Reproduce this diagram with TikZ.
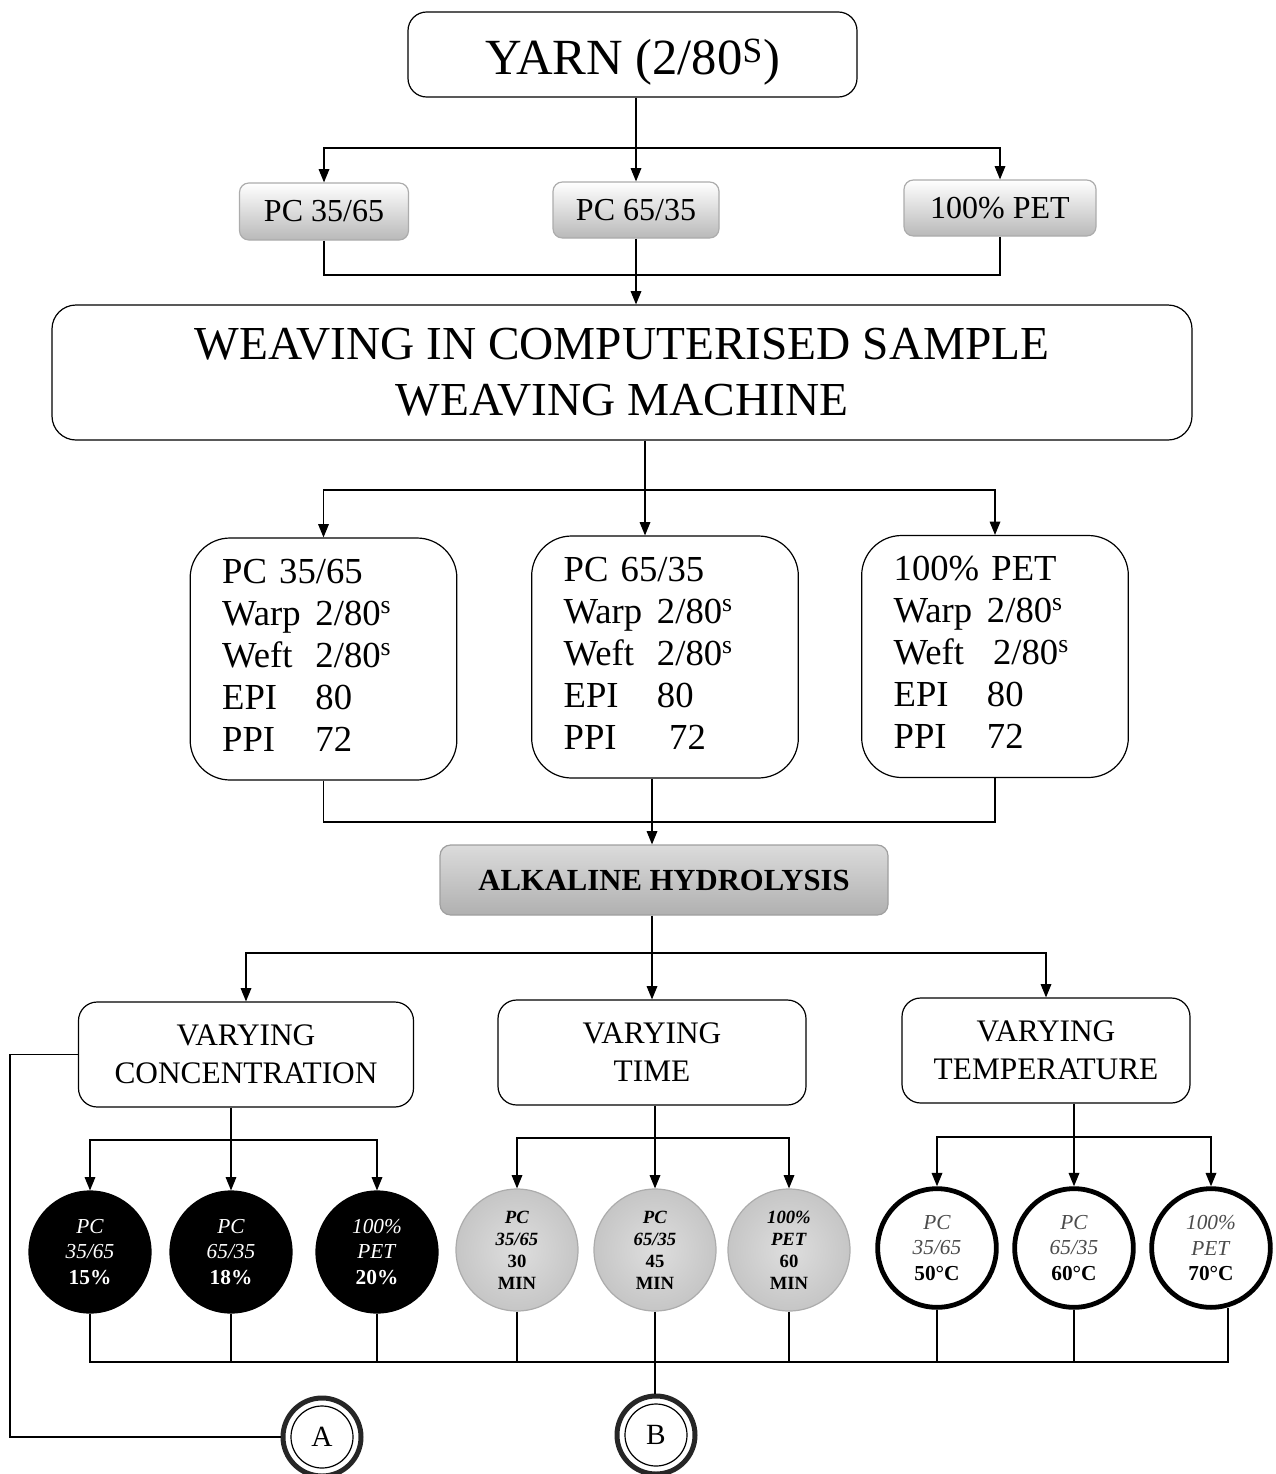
\documentclass[tikz,border=0pt]{standalone}
\usepackage{fontspec}
\setmainfont{Liberation Serif}
\usetikzlibrary{arrows.meta,shadings}
\newcommand{\myfs}[2]{\fontsize{#1}{#2}\selectfont}
\begin{document}
\begin{tikzpicture}[x=0.75pt,y=-0.75pt,
  line width=0.9pt,
  arr/.style={-{Triangle[length=10pt,width=8pt]}},
  rbox/.style={draw, rounded corners=#1, align=center, inner sep=0pt},
  grad/.style={draw=gray!65, rounded corners=7pt, top color=white, bottom color=gray!55, inner sep=0pt, font=\myfs{24pt}{28pt}},
  spec/.style={draw, rounded corners=30pt, minimum width=200pt, minimum height=181.5pt, inner xsep=24pt, inner ysep=0pt, text width=152pt, align=left, font=\myfs{27.5pt}{31.5pt}},
  vary/.style={draw, rounded corners=14pt, minimum height=78.75pt, inner sep=0pt, align=center, font=\myfs{23.5pt}{28.5pt}},
  blk/.style={circle, fill=black, draw=black, minimum size=91.5pt, inner sep=0pt, text=white, align=center, font=\myfs{16pt}{19pt}},
  gry/.style={circle, draw=gray!65, inner color=gray!26, outer color=gray!45, minimum size=91.5pt, inner sep=0pt, align=center, font=\myfs{14pt}{16.5pt}\bfseries},
  rim/.style={circle, draw, line width=3.6pt, fill=white, minimum size=89pt, inner sep=0pt, align=center, font=\myfs{16pt}{19pt}},
  ringo/.style={circle, draw=black!85, line width=3.75pt, minimum size=58.5pt, inner sep=0pt, font=\myfs{22pt}{24pt}},
  ringi/.style={circle, draw, line width=0.9pt, minimum size=46.5pt, inner sep=0pt}
]
\useasboundingbox (0,0) rectangle (1275,1474);

% top
\node[rbox=14pt, minimum width=336.75pt, minimum height=63.75pt, font=\myfs{38pt}{44pt}] (yarn) at (632.5,54.5) {\raisebox{-15pt}[0pt][0pt]{YARN (2/80\textsuperscript{S})}};
\node[grad, minimum width=126.75pt, minimum height=42.75pt] (pc1) at (324,211.5) {PC 35/65};
\node[grad, minimum width=124.5pt, minimum height=42pt] (pc2) at (636,210) {PC 65/35};
\node[grad, minimum width=144pt, minimum height=42pt] (pc3) at (1000,208) {100\% PET};

\node[rbox=18pt, minimum width=855pt, minimum height=101.25pt, font=\myfs{35.5pt}{42pt}] (weave) at (622,372.5) {WEAVING IN COMPUTERISED SAMPLE\\WEAVING MACHINE};

\node[spec] (s1) at (323.5,659) {\begin{tabular}{@{}p{70pt}@{}l@{}}\multicolumn{2}{@{}l@{}}{PC 35/65}\\ Warp & 2/80\textsuperscript{s}\\ Weft & 2/80\textsuperscript{s}\\ EPI & 80\\ PPI & 72\end{tabular}};
\node[spec] (s2) at (665,657) {\begin{tabular}{@{}p{70pt}@{}l@{}}\multicolumn{2}{@{}l@{}}{PC 65/35}\\ Warp & 2/80\textsuperscript{s}\\ Weft & 2/80\textsuperscript{s}\\ EPI & 80\\ PPI & \,\,72\end{tabular}};
\node[spec] (s3) at (995,656.5) {\begin{tabular}{@{}p{70pt}@{}l@{}}\multicolumn{2}{@{}l@{}}{100\% PET}\\ Warp & 2/80\textsuperscript{s}\\ Weft & \,2/80\textsuperscript{s}\\ EPI & 80\\ PPI & 72\end{tabular}};

\node[draw=gray!75, rounded corners=8pt, top color=gray!28, bottom color=gray!62, minimum width=336pt, minimum height=52.5pt, inner sep=0pt, font=\bfseries\myfs{23pt}{26pt}] (alk) at (664,880) {ALKALINE HYDROLYSIS};

\node[vary, minimum width=251.25pt] (vc) at (246,1054.5) {VARYING\\CONCENTRATION};
\node[vary, minimum width=231pt] (vt) at (652,1052.5) {VARYING\\TIME};
\node[vary, minimum width=216pt] (vtemp) at (1046,1050.5) {VARYING\\TEMPERATURE};

\node[blk] (c1) at (90,1252) {\textit{PC}\\\textit{35/65}\\\textbf{15\%}};
\node[blk] (c2) at (231,1252) {\textit{PC}\\\textit{65/35}\\\textbf{18\%}};
\node[blk] (c3) at (377,1252) {\textit{100\%}\\\textit{PET}\\\textbf{20\%}};
\node[gry] (g1) at (517,1250) {\textit{PC}\\\textit{35/65}\\30\\MIN};
\node[gry] (g2) at (655,1250) {\textit{PC}\\\textit{65/35}\\45\\MIN};
\node[gry] (g3) at (789,1250) {\textit{100\%}\\\textit{PET}\\60\\MIN};
\node[rim] (t1) at (937,1248) {\textcolor{black!70}{\textit{PC}}\\\textcolor{black!70}{\textit{35/65}}\\\textbf{50°C}};
\node[rim] (t2) at (1074,1248) {\textcolor{black!70}{\textit{PC}}\\\textcolor{black!70}{\textit{65/35}}\\\textbf{60°C}};
\node[rim] (t3) at (1211,1248) {\textcolor{black!70}{\textit{100\%}}\\\textcolor{black!70}{\textit{PET}}\\\textbf{70°C}};

\node[ringo] (A) at (322,1437) {A};
\node[ringi] (Ai) at (322,1437) {};
\node[ringo] (B) at (656,1435) {B};
\node[ringi] (Bi) at (656,1435) {};

% connectors
\coordinate (j1) at (636,148);
\draw (yarn.south -| j1) -- (j1);
\draw[arr] (j1) -| (pc1.north);
\draw[arr] (j1) -- (j1 |- pc2.north);
\draw[arr] (j1) -| (pc3.north);

\coordinate (k1) at (636,275);
\draw (pc1.south) |- (k1);
\draw (pc3.south) |- (k1);
\draw[arr] (pc2.south) -- (pc2.south |- weave.north);

\coordinate (j2) at (645,490);
\draw (weave.south -| j2) -- (j2);
\draw[arr] (j2) -| (s1.north);
\draw[arr] (j2) -- (j2 |- s2.north);
\draw[arr] (j2) -| (s3.north);

\coordinate (k2) at (652,822);
\draw (s1.south) |- (k2);
\draw (s3.south) |- (k2);
\draw (k2 |- s2.south) -- (k2);
\draw[arr] (k2) -- (k2 |- alk.north);

\coordinate (j3) at (652,953);
\draw (j3 |- alk.south) -- (j3);
\draw[arr] (j3) -| (vc.north);
\draw[arr] (j3) -- (j3 |- vt.north);
\draw[arr] (j3) -| (vtemp.north);

\coordinate (j4) at (231,1140);
\draw (j4 |- vc.south) -- (j4);
\draw[arr] (j4) -| (c1.north);
\draw[arr] (j4) -- (c2.north);
\draw[arr] (j4) -| (c3.north);

\coordinate (j5) at (655,1138);
\draw (j5 |- vt.south) -- (j5);
\draw[arr] (j5) -| (g1.north);
\draw[arr] (j5) -- (g2.north);
\draw[arr] (j5) -| (g3.north);

\coordinate (j6) at (1074,1137);
\draw (j6 |- vtemp.south) -- (j6);
\draw[arr] (j6) -| (t1.north);
\draw[arr] (j6) -- (t2.north);
\draw[arr] (j6) -| (t3.north);

\coordinate (m) at (655,1362);
\coordinate (tb) at (1228,1308);
\draw (c1.south) |- (m);
\draw (c2.south) |- (m);
\draw (c3.south) |- (m);
\draw (g1.south) |- (m);
\draw (g3.south) |- (m);
\draw (t1.south) |- (m);
\draw (t2.south) |- (m);
\draw (tb) |- (m);
\draw (g2.south) -- (g2.south |- B.north);

\coordinate (aa) at (10,1054.5);
\draw (vc.west) -- (aa) |- (A.west);
\end{tikzpicture}
\end{document}
